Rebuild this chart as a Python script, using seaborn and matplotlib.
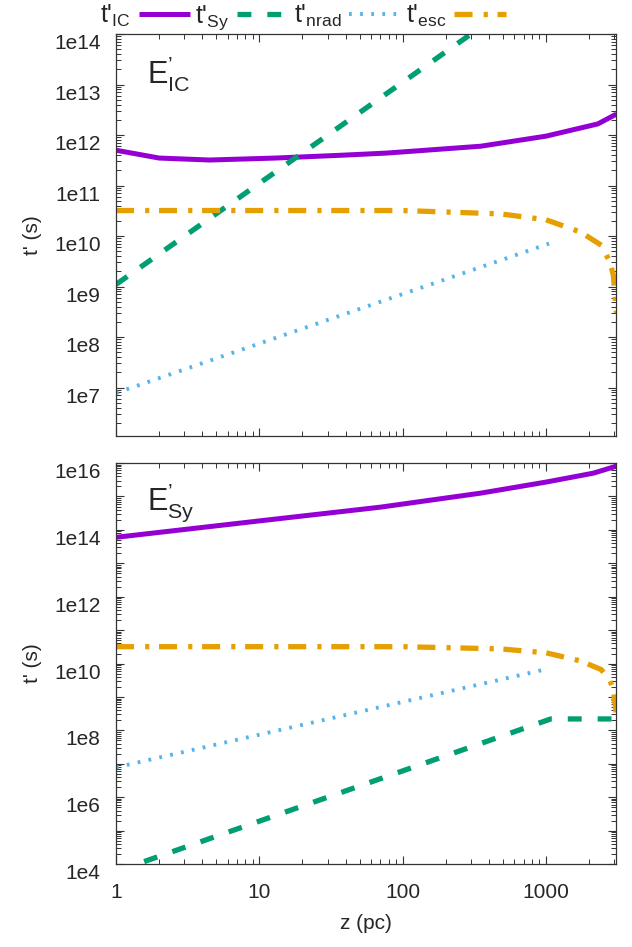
import numpy as np
import pandas as pd
import matplotlib
matplotlib.use("Agg")
import matplotlib.pyplot as plt
import seaborn as sns

# Data

# upper panel: E'_IC
z_ic_top = [1, 2, 4.5, 13, 39, 78, 350, 1000, 2300, 3100]
t_ic_top = [5.0e11, 3.5e11, 3.2e11, 3.5e11, 4.0e11, 4.4e11, 6.0e11, 9.5e11, 1.66e12, 2.6e12]
z_sy_top = [1, 300]
t_sy_top = [1.1e9, 1.0e14]

# lower panel: E'_Sy
z_ic_bot = [1, 10, 70, 350, 1000, 2140, 3100]
t_ic_bot = [6.0e13, 1.86e14, 4.8e14, 1.26e15, 2.7e15, 5.0e15, 8.1e15]
z_sy_bot = [1, 1080, 3100]
t_sy_bot = [6.0e3, 2.2e8, 2.2e8]

# same in both panels
z_nrad = [1, 1050]
t_nrad = [7.8e6, 7.1e9]
z_esc = [1, 100, 480, 1000, 1740, 2430, 2800, 2950, 3100]
t_esc = [3.2e10, 3.2e10, 2.75e10, 2.1e10, 1.2e10, 6.6e9, 3.0e9, 1.66e9, 3.0e8]

labels = ["t'$_\\mathregular{IC}$", "t'$_\\mathregular{Sy}$",
          "t'$_\\mathregular{nrad}$", "t'$_\\mathregular{esc}$"]
colors = ["#9400D3", "#009E73", "#56B4E9", "#E69F00"]

sns.set_theme(style="ticks")
plt.rcParams["font.family"] = ["Liberation Sans", "DejaVu Sans"]
plt.rcParams["mathtext.fontset"] = "custom"
plt.rcParams["mathtext.rm"] = "Liberation Sans"
plt.rcParams["lines.scale_dashes"] = False
plt.rcParams["axes.edgecolor"] = "#333333"
plt.rcParams["axes.linewidth"] = 0.9

fig = plt.figure(figsize=(6.32, 9.47), dpi=100)
ax1 = fig.add_axes([0.1835, 0.5396, 0.7919, 0.4245])
ax2 = fig.add_axes([0.1835, 0.0876, 0.7919, 0.4234])

styles = [
    dict(linewidth=3.6),
    dict(linewidth=3.8, dashes=(10, 11.5)),
    dict(linewidth=2.8, dashes=(2, 6)),
    dict(linewidth=3.8, dashes=(13, 8, 3, 7)),
]


def draw(ax, ic, sy):
    series = [ic, sy, (z_nrad, t_nrad), (z_esc, t_esc)]
    for (zz, tt), lab, col, st in zip(series, labels, colors, styles):
        df = pd.DataFrame({"z": zz, "t": tt})
        sns.lineplot(data=df, x="z", y="t", ax=ax, color=col, label=lab,
                     sort=False, estimator=None, solid_capstyle="butt", **st)
    ax.set_xscale("log")
    ax.set_yscale("log")
    ax.set_xlim(1, 3100)
    if ax.get_legend() is not None:
        ax.get_legend().remove()
    ax.tick_params(which="both", direction="in", top=True, right=True,
                   labelsize=15, color="#333333")
    ax.tick_params(which="major", length=6, width=0.8)
    ax.tick_params(which="minor", length=3.5, width=0.7)
    ax.tick_params(axis="y", pad=11)
    ax.tick_params(axis="x", pad=14)
    ax.set_xticks([1, 10, 100, 1000])
    ax.set_xticklabels(["1", "10", "100", "1000"])
    ax.set_ylabel("t' (s)", fontsize=15)
    ax.yaxis.set_label_coords(-0.148, 0.5)


draw(ax1, (z_ic_top, t_ic_top), (z_sy_top, t_sy_top))
draw(ax2, (z_ic_bot, t_ic_bot), (z_sy_bot, t_sy_bot))

ax1.set_ylim(1.1e6, 1e14)
ax1.set_yticks([10.0 ** k for k in range(7, 15)])
ax1.set_yticklabels(["1e%d" % k for k in range(7, 15)])
ax1.set_yticks([m * 10.0 ** k for k in range(6, 14) for m in range(2, 10)], minor=True)
ax1.set_xticklabels([])
ax1.set_xlabel("")

ax2.set_ylim(1e4, 1e16)
ax2.set_yticks([10.0 ** k for k in range(4, 17)])
ax2.set_yticklabels(["1e%d" % k if k % 2 == 0 else "" for k in range(4, 17)])
ax2.set_yticks([m * 10.0 ** k for k in range(4, 16) for m in range(2, 10)], minor=True)
ax2.set_xlabel("z (pc)", fontsize=15)
ax2.xaxis.set_label_coords(0.5, -0.125)

for ax in (ax1, ax2):
    ax.yaxis.set_minor_formatter(matplotlib.ticker.NullFormatter())
    ax.xaxis.set_minor_formatter(matplotlib.ticker.NullFormatter())
    for lab in ax.get_yticklabels():
        lab.set_va("top")

# panel labels (one text each: apostrophe above, subscript below)
ax1.text(0.062, 0.878, r"$\mathregular{E^{’}_{IC}}$", transform=ax1.transAxes,
         fontsize=22, va="baseline")
ax2.text(0.062, 0.883, r"$\mathregular{E^{’}_{Sy}}$", transform=ax2.transAxes,
         fontsize=22, va="baseline")

handles, labs = ax1.get_legend_handles_labels()
fig.legend(handles[:4], labs[:4], loc="upper left", bbox_to_anchor=(0.155, 1.0),
           ncol=4, frameon=False, markerfirst=False, fontsize=18,
           handlelength=2.05, handletextpad=0.3, columnspacing=0.22,
           borderpad=0.1, borderaxespad=0)

fig.savefig("out.png", dpi=100)
